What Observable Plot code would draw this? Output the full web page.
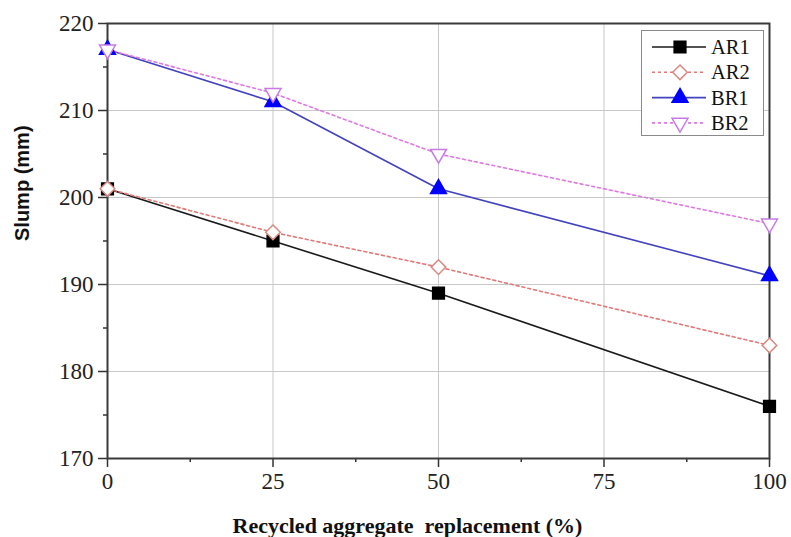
<!DOCTYPE html>
<html>
<head>
<meta charset="utf-8">
<script src="https://cdn.jsdelivr.net/npm/d3@7"></script>
<script src="https://cdn.jsdelivr.net/npm/@observablehq/plot@0.6"></script>
<style>
  html, body { margin: 0; padding: 0; background: #fff; }
  #wrap { position: relative; width: 791px; height: 537px; }
  #legend { position: absolute; left: 641px; top: 30px; width: 123px; height: 106px;
            border: 1px solid #8a8a8a; background: #fff; box-sizing: border-box; }
  #legend svg { display: block; }
</style>
</head>
<body>
<div id="wrap"><div id="legend"></div></div>
<script>
// Slump of concrete mixes vs. recycled aggregate replacement level
const replacement = [0, 25, 50, 100];
const seriesNames = ["AR1", "AR2", "BR1", "BR2"];
const ar1 = [201, 195, 189, 176];
const ar2 = [201, 196, 192, 183];
const br1 = [217, 211, 201, 191];
const br2 = [217, 212, 205, 197];
const xTicks = [0, 25, 50, 75, 100];
const xMinor = [12.5, 37.5, 62.5, 87.5];
const yTicks = [170, 180, 190, 200, 210, 220];
const yMinor = [175, 185, 195, 205, 215];

const styles = {
  AR1: {line: "#1a1a1a", dash: null, symbol: "square", fill: "#000", stroke: "#000", r: 6.6, rotate: 0},
  AR2: {line: "#e07a78", dash: "3,3", symbol: "diamond2", fill: "#fff", stroke: "#d98a80", r: 6.6, rotate: 0},
  BR1: {line: "#4343c0", dash: null, symbol: "triangle2", fill: "#0000ff", stroke: "#0000ff", r: 7.6, rotate: 0},
  BR2: {line: "#dd7ae0", dash: "3,3", symbol: "triangle2", fill: "#fff", stroke: "#c77ae6", r: 7.6, rotate: 180}
};

const valuesBySeries = {AR1: ar1, AR2: ar2, BR1: br1, BR2: br2};
const rows = seriesNames.flatMap(s => replacement.map((x, i) => ({series: s, x, y: valuesBySeries[s][i]})));

const serif = "'Liberation Serif', 'Times New Roman', serif";

const marks = [
  Plot.gridX(xTicks, {stroke: "#c8c8c8", strokeOpacity: 1, strokeWidth: 1}),
  Plot.gridY(yTicks, {stroke: "#c8c8c8", strokeOpacity: 1, strokeWidth: 1}),
  Plot.axisX(xMinor, {tickSize: 4, text: null, label: null, stroke: "#333", strokeWidth: 1.5}),
  Plot.axisY(yMinor, {tickSize: 4, text: null, label: null, stroke: "#333", strokeWidth: 1.5}),
  Plot.axisX(xTicks, {tickSize: 9, tickPadding: 5, fontSize: 23, fontFamily: serif, fill: "#222", stroke: "#333", strokeWidth: 1.5, label: null}),
  Plot.axisY(yTicks, {tickSize: 9, tickPadding: 5, fontSize: 23, fontFamily: serif, fill: "#222", stroke: "#333", strokeWidth: 1.5, label: null}),
  Plot.frame({stroke: "#3a3a3a", strokeWidth: 2})
];

for (const s of seriesNames) {
  const st = styles[s];
  marks.push(Plot.line(rows.filter(d => d.series === s), {
    x: "x", y: "y", stroke: st.line, strokeWidth: 1.6, strokeDasharray: st.dash
  }));
}
for (const s of seriesNames) {
  const st = styles[s];
  marks.push(Plot.dot(rows.filter(d => d.series === s), {
    x: "x", y: "y", symbol: () => st.symbol, r: st.r, fill: st.fill, stroke: st.stroke,
    strokeWidth: 1.5, rotate: st.rotate
  }));
}

marks.push(Plot.text(["Slump (mm)"], {
  frameAnchor: "left", dx: -85, rotate: -90, fontSize: 20, fontWeight: "bold",
  fontFamily: "'Liberation Sans Narrow', 'Liberation Sans', Arial, sans-serif", fill: "#111"
}));
marks.push(Plot.text(["Recycled aggregate  replacement (%)"], {
  frameAnchor: "bottom", dy: 67, dx: -31, fontSize: 22, fontWeight: "bold",
  fontFamily: serif, fill: "#111", lineAnchor: "middle"
}));

const chart = Plot.plot({
  width: 791,
  height: 537,
  marginLeft: 107,
  marginRight: 22,
  marginTop: 23,
  marginBottom: 79,
  x: {domain: [0, 100], label: null},
  y: {domain: [170, 220], label: null},
  style: {background: "#fff", overflow: "visible"},
  marks
});
const wrap = document.getElementById("wrap");
wrap.insertBefore(chart, wrap.firstChild);

// legend drawn with d3 inside its bordered box
const lg = d3.select("#legend").append("svg").attr("width", 121).attr("height", 104);
seriesNames.forEach((s, i) => {
  const st = styles[s];
  const cy = 16 + i * 25.3;
  const g = lg.append("g").attr("transform", `translate(0,${cy})`);
  g.append("line").attr("x1", 10).attr("x2", 64).attr("y1", 0).attr("y2", 0)
    .attr("stroke", st.line).attr("stroke-width", 1.6).attr("stroke-dasharray", st.dash);
  const sym = {square: d3.symbolSquare, diamond2: d3.symbolDiamond2, triangle2: d3.symbolTriangle2}[st.symbol];
  g.append("path").attr("d", d3.symbol(sym, Math.PI * st.r * st.r)())
    .attr("transform", `translate(38,0) rotate(${st.rotate})`)
    .attr("fill", st.fill).attr("stroke", st.stroke).attr("stroke-width", 1.5);
  g.append("text").attr("x", 69).attr("y", 0).attr("dy", "0.35em")
    .attr("font-family", serif).attr("font-size", 20.5).attr("fill", "#111").text(s);
});
</script>
</body>
</html>
